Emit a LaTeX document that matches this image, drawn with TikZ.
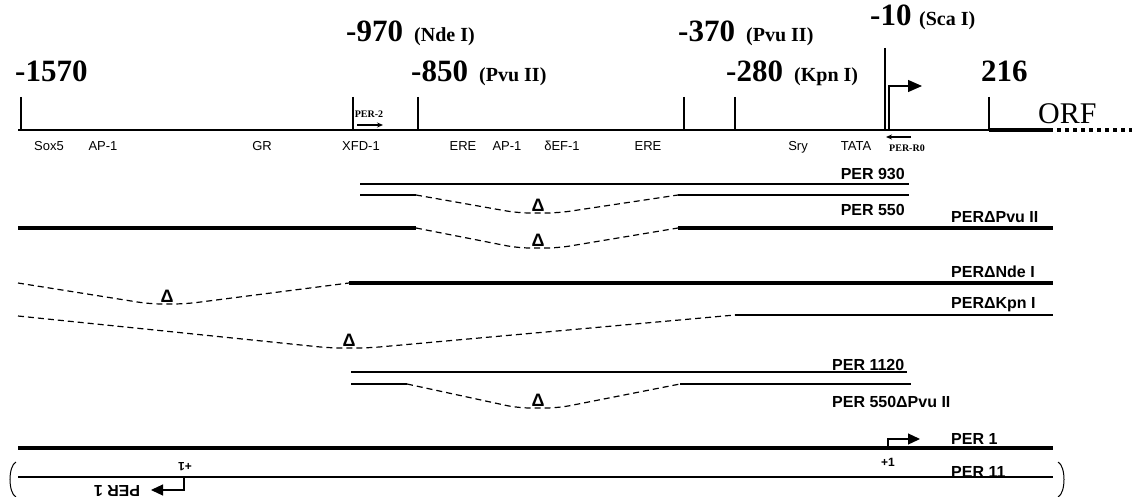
\documentclass[tikz,border=0pt]{standalone}
\usepackage{fontspec}
\setmainfont{Liberation Serif}
\newfontfamily\arial{Liberation Sans}
\usetikzlibrary{arrows.meta}
\begin{document}
\begin{tikzpicture}[x=1pt,y=-1pt,
  num/.style={font=\fontsize{31}{31}\selectfont\bfseries, anchor=base west, inner sep=0},
  enz/.style={font=\fontsize{20}{20}\selectfont\bfseries, anchor=base west, inner sep=0},
  orf/.style={font=\fontsize{30}{30}\selectfont, anchor=base west, inner sep=0},
  site/.style={font=\arial\fontsize{13}{13}\selectfont, anchor=base, inner sep=0},
  primer/.style={font=\fontsize{10}{10}\selectfont\bfseries, anchor=base, inner sep=0},
  frag/.style={font=\arial\bfseries\fontsize{16}{16}\selectfont, inner sep=0},
  del/.style={font=\arial\bfseries\fontsize{18}{18}\selectfont, anchor=south, inner sep=0},
  fragthin/.style={line width=2pt},
  fragthick/.style={line width=3.5pt},
  gapline/.style={line width=1.2pt, dash pattern=on 6pt off 4pt, rounded corners=12pt},
  tickline/.style={line width=1.2pt},
]
\useasboundingbox (0,0) rectangle (1132,497);

% ---------- map axis ----------
\draw[tickline] (18,130) -- (989,130);
\foreach \xx in {21,353,418,684,735,989} \draw[tickline] (\xx,97) -- (\xx,130);
\draw[tickline] (885,48) -- (885,130);
\draw[line width=4pt] (989,130) -- (1053,130);
\draw[line width=4pt, dash pattern=on 4pt off 4pt] (1057,130) -- (1132,130);
\draw[line width=1.2pt, -{Triangle[length=14pt,width=12pt]}] (889,130) -- (889,86) -- (922,86);

% ---------- position labels ----------
\node[num] (p1570) at (15,82) {-1570};
\node[num] (p970) at (346,42) {-970};
\node[enz] (e970) at (414,42) {(Nde I)};
\node[num] (p850) at (411,82) {-850};
\node[enz] (e850) at (479,82) {(Pvu II)};
\node[num] (p370) at (678,42) {-370};
\node[enz] (e370) at (746,42) {(Pvu II)};
\node[num] (p280) at (726,82) {-280};
\node[enz] (e280) at (794,82) {(Kpn I)};
\node[num] (p10) at (870,26) {-10};
\node[enz] (e10) at (919,26) {(Sca I)};
\node[num] (p216) at (981,82) {216};
\node[orf] (orf) at (1038,124) {ORF};

% ---------- sites ----------
\node[site] (s1) at (49,151) {Sox5};
\node[site] (s2) at (103,151) {AP-1};
\node[site] (s3) at (262,151) {GR};
\node[site] (s4) at (361,151) {XFD-1};
\node[site] (s5) at (463,151) {ERE};
\node[site] (s6) at (507,151) {AP-1};
\node[site] (s7) at (562,151) {δEF-1};
\node[site] (s8) at (648,151) {ERE};
\node[site] (s9) at (798,151) {Sry};
\node[site] (s10) at (856,151) {TATA};

% primers
\node[primer] (per2) at (369,118) {PER-2};
\draw[line width=1.8pt, -{Stealth[length=6pt,width=5pt]}] (357,125) -- (383,125);
\node[primer] (perr0) at (907,152) {PER-R0};
\draw[line width=1.8pt, -{Stealth[length=6pt,width=5pt]}] (911,137) -- (886,137);

% ---------- constructs ----------
% PER 930
\draw[fragthin] (360,184) -- (909,184);
\node[frag, anchor=east] (l930) at (905,174) {PER 930};
% PER 550
\draw[fragthin] (360,195) -- (416,195);
\draw[gapline] (416,195) -- (518,213) -- (558,213) -- (678,195);
\draw[fragthin] (678,195) -- (909,195);
\node[del] (d1) at (538,212) {Δ};
\node[frag, anchor=east] (l550) at (905,210) {PER 550};
% PER dPvu II
\draw[fragthick] (18,228) -- (416,228);
\draw[gapline] (416,228) -- (518,248) -- (558,248) -- (678,228);
\draw[fragthick] (678,228) -- (1053,228);
\node[del] (d2) at (538,247) {Δ};
\node[frag, anchor=west] (lpvu) at (951,217) {PERΔPvu II};
% PER dNde I
\draw[gapline] (18,283) -- (150,304) -- (185,304) -- (349,283);
\draw[fragthick] (349,283) -- (1053,283);
\node[del] (d3) at (167,303) {Δ};
\node[frag, anchor=west] (lnde) at (951,272) {PERΔNde I};
% PER dKpn I
\draw[gapline] (18,316) -- (330,348) -- (368,348) -- (735,315);
\draw[fragthin] (735,315) -- (1053,315);
\node[del] (d4) at (349,347) {Δ};
\node[frag, anchor=west] (lkpn) at (951,305) {PERΔKpn I};
% PER 1120
\draw[fragthin] (351,372) -- (907,372);
\node[frag, anchor=west] (l1120) at (832,365) {PER 1120};
% PER 550 dPvu II
\draw[fragthin] (351,384) -- (407,384);
\draw[gapline] (407,384) -- (518,408) -- (558,408) -- (680,384);
\draw[fragthin] (680,384) -- (911,384);
\node[del] (d5) at (538,407) {Δ};
\node[frag, anchor=west] (l550p) at (832,402) {PER 550ΔPvu II};
% PER 1
\draw[line width=4pt] (18,448) -- (1053,448);
\draw[line width=1.2pt, -{Triangle[length=12pt,width=11pt]}] (888,448) -- (888,439) -- (920,439);
\node[frag, anchor=west] (lper1) at (951,439) {PER 1};
\node[frag, font=\arial\bfseries\fontsize{12}{12}\selectfont] (plus1) at (888,462) {+1};
% PER 11
\draw[fragthin] (18,477) -- (1053,477);
\node[frag, anchor=west] (lper11) at (951,472) {PER 11};
\draw[line width=1.2pt, -{Triangle[length=12pt,width=11pt]}] (184,477) -- (184,490) -- (151,490);
\node[frag, font=\arial\bfseries\fontsize{12}{12}\selectfont, rotate=180] (plus1r) at (185,467) {+1};
\node[frag, rotate=180] (lper1r) at (117,491) {PER 1};
% brackets
\draw[line width=1pt] (16,462) .. controls (8,466) and (8,493) .. (16,497);
\draw[line width=1pt] (1058,462) .. controls (1066,466) and (1066,493) .. (1058,497);
\end{tikzpicture}
\end{document}
